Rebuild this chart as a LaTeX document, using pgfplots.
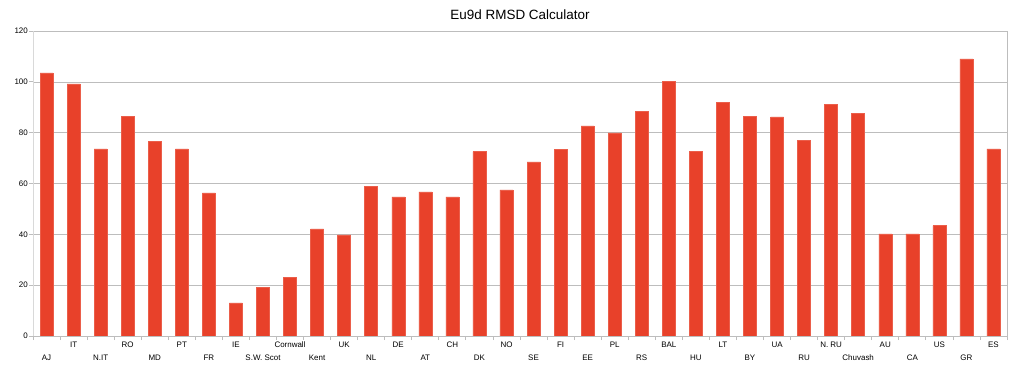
\documentclass[border=0pt]{standalone}
\usepackage{pgfplots}
\pgfplotsset{compat=1.18}
\usepackage{fontspec}
\setmainfont{Liberation Sans}
\definecolor{barred}{HTML}{E8412A}
\definecolor{gridgray}{HTML}{BDBDBD}
\begin{document}
\begin{tikzpicture}
\path[use as bounding box] (0,0) rectangle (1021bp,366bp);
\begin{axis}[
  at={(33bp,30bp)}, anchor=south west,
  scale only axis, width=974bp, height=305bp,
  xmin=-0.5, xmax=35.5, ymin=0, ymax=120,
  ytick={0,20,...,120},
  ymajorgrids, grid style={gridgray, line width=0.6bp},
  axis line style={gridgray, line width=0.8bp},
  tick style={gridgray, line width=0.8bp},
  ytick pos=left, ytick align=outside, major tick length=4bp,
  xtick pos=bottom, xtick align=outside,
  xtick={0,2,...,34},
  xticklabels={AJ,N.IT,MD,FR,S.W. Scot,Kent,NL,AT,DK,SE,EE,RS,HU,BY,RU,Chuvash,CA,GR},
  extra x ticks={1,3,...,35},
  extra x tick labels={IT,RO,PT,IE,Cornwall,UK,DE,CH,NO,FI,PL,BAL,LT,UA,N. RU,AU,US,ES},
  x tick style={draw=none},
  minor xtick={-0.5,0.5,...,35.5},
  minor x tick style={draw=gridgray, line width=0.8bp},
  minor tick length=4bp,
  x tick label style={font=\fontsize{8}{9}\selectfont, yshift=-14bp, inner sep=1bp},
  extra x tick style={tick label style={yshift=9bp}, major tick length=0pt},
  y tick label style={font=\fontsize{8}{9}\selectfont, inner sep=1bp},
  /pgf/number format/assume math mode=true,
  title={Eu9d RMSD Calculator},
  title style={font=\fontsize{13.5}{15}\selectfont, yshift=2bp},
  ybar, bar width=13bp,
]
\addplot[fill=barred, draw=barred!85!white, line width=0.5bp] coordinates {
(0,103.5) (1,99.2) (2,73.6) (3,86.4) (4,76.6) (5,73.6) (6,56.3) (7,13.0)
(8,19.0) (9,23.2) (10,42.1) (11,39.8) (12,59.0) (13,54.7) (14,56.7) (15,54.7)
(16,72.5) (17,57.5) (18,68.5) (19,73.5) (20,82.7) (21,79.9) (22,88.3) (23,100.2)
(24,72.5) (25,92.0) (26,86.3) (27,86.2) (28,77.0) (29,91.0) (30,87.5) (31,40.2)
(32,40.2) (33,43.4) (34,109.0) (35,73.6)
};
\draw[gray!30, line width=2.5bp] (axis cs:-0.5,0) -- (axis cs:-0.5,120);
\end{axis}
\end{tikzpicture}
\end{document}
